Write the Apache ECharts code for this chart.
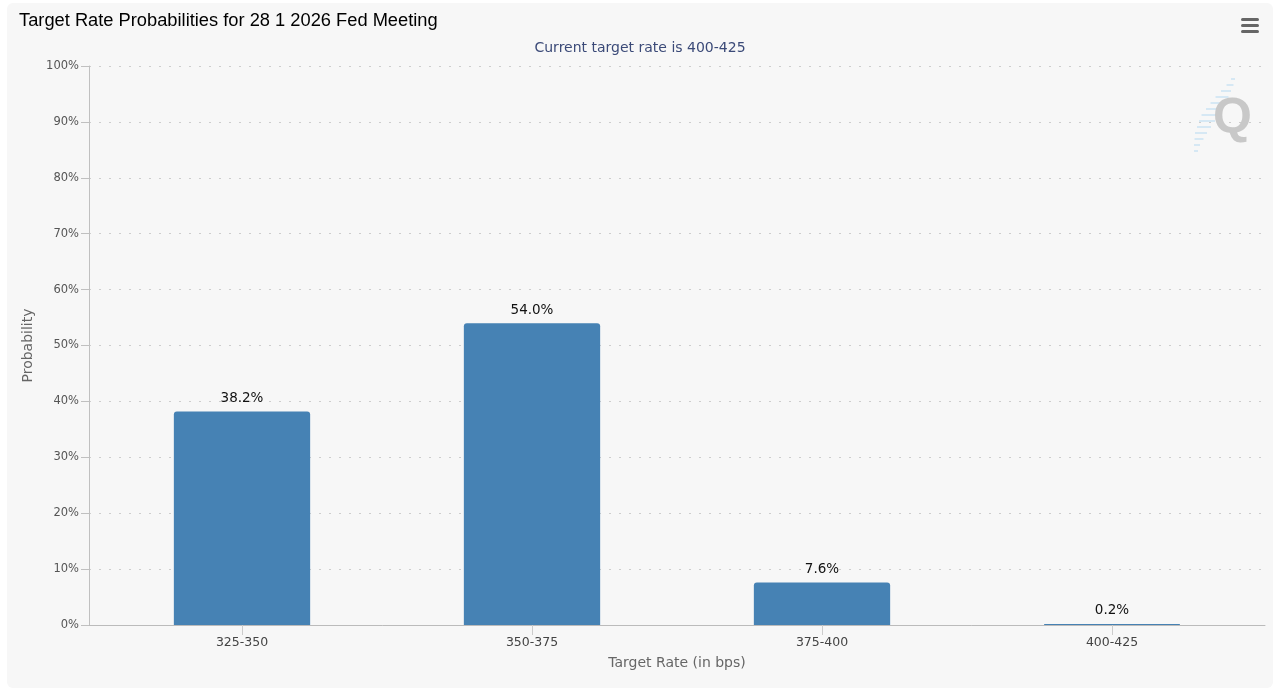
<!DOCTYPE html>
<html>
<head>
<meta charset="utf-8">
<script src="https://cdn.jsdelivr.net/npm/echarts@6/dist/echarts.min.js"></script>
<style>
html,body{margin:0;padding:0;background:#fff;width:1280px;height:691px;overflow:hidden;}
#panel{position:absolute;left:7px;top:3px;width:1266px;height:685px;background:#f7f7f7;border-radius:6px;}
#chart{position:absolute;left:0;top:0;width:1280px;height:691px;}
</style>
</head>
<body>
<div id="panel"></div>
<div id="chart"></div>
<script>
const titleText = 'Target Rate Probabilities for 28 1 2026 Fed Meeting';
const subtitleText = 'Current target rate is 400-425';
const categories = ['325-350', '350-375', '375-400', '400-425'];
const probabilities = [38.2, 54.0, 7.6, 0.2];
const yAxisName = 'Probability';
const xAxisName = 'Target Rate (in bps)';

const chart = echarts.init(document.getElementById('chart'), null, {renderer: 'canvas'});
const qStripes = [];
const stripeSpecs = [[1233,78,4],[1230,84,7],[1226,90,10],[1222,96,13],[1218,102,15],[1214,108,16],[1210,114,17],[1207,120,16],[1204,126,14],[1201,132,12],[1199,138,9],[1197,144,6],[1196,150,4]];
stripeSpecs.forEach(s => qStripes.push({type:'rect', silent:true, shape:{x:s[0]-s[2]/2, y:s[1], width:s[2], height:2}, style:{fill:'#d6e8f4'}, z:1}));

chart.setOption({
  backgroundColor: 'transparent',
  animation: false,
  title: [
    {text: titleText, left: 19, top: 12, padding: 0,
     textStyle: {fontFamily: 'Liberation Sans', fontSize: 18.3, fontWeight: 'normal', color: '#000'}},
    {text: subtitleText, left: 'center', top: 41, padding: 0,
     textStyle: {fontFamily: 'DejaVu Sans', fontSize: 14, fontWeight: 'normal', color: '#3b4a78'}}
  ],
  grid: [
    {left: 89, top: 66, width: 1176, height: 559, containLabel: false},
    {left: 97, top: 66, width: 1160, height: 559, containLabel: false}
  ],
  xAxis: [
    {gridIndex: 0, type: 'category', data: categories,
     axisLine: {show: true, lineStyle: {color: '#bbbbbb', width: 1}},
     axisTick: {show: false}, axisLabel: {show: false}, splitLine: {show: false}},
    {gridIndex: 1, type: 'category', data: categories,
     name: xAxisName, nameLocation: 'middle', nameGap: 31,
     nameTextStyle: {fontFamily: 'DejaVu Sans', fontSize: 14, color: '#666'},
     axisLine: {show: false},
     axisTick: {show: true, alignWithLabel: true, length: 10, lineStyle: {color: '#cccccc'}},
     axisLabel: {fontFamily: 'DejaVu Sans', fontSize: 12.5, color: '#444', margin: 11},
     splitLine: {show: false}}
  ],
  yAxis: [
    {gridIndex: 0, type: 'value', min: 0, max: 100, interval: 10,
     name: yAxisName, nameLocation: 'middle', nameGap: 51, nameRotate: 90,
     nameTextStyle: {fontFamily: 'DejaVu Sans', fontSize: 14, color: '#666'},
     axisLine: {show: true, lineStyle: {color: '#c0c0c0', width: 1}},
     axisTick: {show: true, length: 8, lineStyle: {color: '#c0c0c0'}},
     axisLabel: {formatter: '{value}%', fontFamily: 'DejaVu Sans', fontSize: 11.5, color: '#555', margin: 10},
     splitLine: {show: true, lineStyle: {color: '#cdcdcd', type: [2, 8], width: 1}}},
    {gridIndex: 1, type: 'value', min: 0, max: 100, interval: 10, show: false,
     splitLine: {show: false}}
  ],
  series: [{
    type: 'bar', xAxisIndex: 1, yAxisIndex: 1,
    data: probabilities,
    barWidth: '47%',
    itemStyle: {color: '#4682b4', borderRadius: [3, 3, 0, 0]},
    label: {show: true, position: 'top', distance: 6,
      formatter: p => p.value.toFixed(1) + '%',
      fontFamily: 'DejaVu Sans', fontSize: 13.5, color: '#111'}
  }],
  graphic: [
    {type:'rect', silent:true, shape:{x:1241, y:18, width:18, height:3, r:1.5}, style:{fill:'#666'}},
    {type:'rect', silent:true, shape:{x:1241, y:24, width:18, height:3, r:1.5}, style:{fill:'#666'}},
    {type:'rect', silent:true, shape:{x:1241, y:30, width:18, height:3, r:1.5}, style:{fill:'#666'}},
    ...qStripes,
    {type:'text', silent:true, z:2, style:{x:1213, y:94, text:'Q', fill:'#c8c8c8', font:'bold 50px "Liberation Sans"'}}
  ]
});
</script>
</body>
</html>
